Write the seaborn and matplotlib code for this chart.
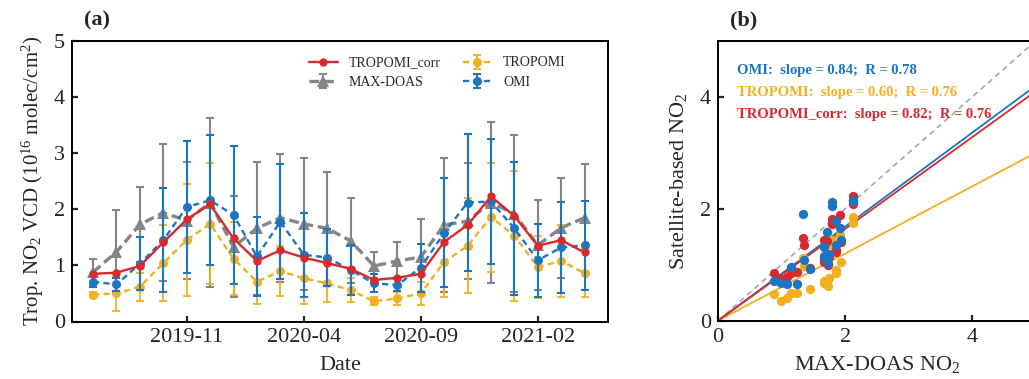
import numpy as np
import matplotlib
matplotlib.use("Agg")
import matplotlib.pyplot as plt
import seaborn as sns
from matplotlib.legend_handler import HandlerTuple

# ---------------- data ----------------
months = ["2019-07", "2019-08", "2019-09", "2019-10", "2019-11", "2019-12",
          "2020-01", "2020-02", "2020-03", "2020-04", "2020-05", "2020-06",
          "2020-07", "2020-08", "2020-09", "2020-10", "2020-11", "2020-12",
          "2021-01", "2021-02", "2021-03", "2021-04"]
tick_labels = ["2019-11", "2020-04", "2020-09", "2021-02"]

maxdoas = [0.88, 1.24, 1.73, 1.94, 1.80, 2.12, 1.33, 1.66, 1.85, 1.74, 1.66,
           1.44, 0.99, 1.08, 1.15, 1.72, 1.79, 2.12, 1.92, 1.36, 1.67, 1.85]
maxdoas_err = [0.23, 0.74, 0.67, 1.22, 1.05, 1.50, 0.90, 1.19, 1.14, 1.18, 1.00,
               0.76, 0.25, 0.33, 0.67, 1.19, 1.04, 1.44, 1.40, 0.80, 0.89, 0.96]

tropomi_corr = [0.85, 0.87, 0.99, 1.41, 1.82, 2.09, 1.48, 1.08, 1.27, 1.14, 1.04,
                0.94, 0.74, 0.78, 0.85, 1.42, 1.72, 2.23, 1.88, 1.35, 1.45, 1.23]

tropomi = [0.48, 0.50, 0.62, 1.04, 1.45, 1.74, 1.12, 0.71, 0.90, 0.77, 0.68,
           0.56, 0.36, 0.41, 0.50, 1.06, 1.35, 1.86, 1.53, 0.97, 1.08, 0.86]
tropomi_err = [0.05, 0.31, 0.25, 0.68, 1.00, 1.08, 0.65, 0.39, 0.45, 0.45, 0.34,
               0.22, 0.07, 0.12, 0.20, 0.63, 0.85, 0.97, 1.16, 0.56, 0.64, 0.43]

omi = [0.71, 0.66, 1.03, 1.45, 2.04, 2.16, 1.90, 1.16, 1.78, 1.19, 1.14,
       0.92, 0.68, 0.65, 0.96, 1.58, 2.12, 2.14, 1.66, 1.09, 1.32, 1.36]
omi_err = [0.10, 0.12, 0.47, 0.93, 1.17, 1.16, 1.23, 0.71, 1.03, 0.75, 0.50,
           0.45, 0.16, 0.10, 0.43, 0.97, 1.22, 1.12, 1.19, 0.65, 0.81, 0.79]

fit_names = ["OMI", "TROPOMI", "TROPOMI_corr"]
fit_slopes = [0.84, 0.60, 0.82]
fit_r = [0.78, 0.76, 0.76]

# ---------------- style ----------------
sns.set_theme(style="ticks")
plt.rcParams["font.family"] = ["Liberation Serif", "DejaVu Serif"]
plt.rcParams["mathtext.fontset"] = "custom"
plt.rcParams["mathtext.rm"] = "Liberation Serif"
plt.rcParams["mathtext.it"] = "Liberation Serif:italic"
plt.rcParams["mathtext.bf"] = "Liberation Serif:bold"
plt.rcParams["lines.scale_dashes"] = False

RED = "#D62A2E"
GRAY = "#858585"
YEL = "#F2B01E"
BLUE = "#1B75C2"

fig = plt.figure(figsize=(10.29, 3.79), dpi=100)
ax = fig.add_axes([72 / 1029, 1 - 321.5 / 379, 536 / 1029, 280.5 / 379])
ax2 = fig.add_axes([718 / 1029, 1 - 320.7 / 379, 318 / 1029, 280 / 379])

x = np.arange(len(months))

# ---------------- panel (a) ----------------
eb_g = ax.errorbar(x, maxdoas, yerr=maxdoas_err, fmt="none", ecolor=GRAY,
                   elinewidth=1.5, capsize=3, capthick=1.5, zorder=2)
sns.lineplot(x=x, y=maxdoas, ax=ax, color=GRAY, marker="^", markersize=9,
             markeredgecolor=GRAY, markeredgewidth=0, linewidth=2.4, zorder=3)
ln_g = ax.lines[-1]
ln_g.set_dashes([7, 3.5])

eb_y = ax.errorbar(x, tropomi, yerr=tropomi_err, fmt="none", ecolor=YEL,
                   elinewidth=1.3, capsize=3, capthick=1.3, zorder=4)
sns.lineplot(x=x, y=tropomi, ax=ax, color=YEL, marker="o", markersize=6.5,
             markeredgecolor=YEL, markeredgewidth=0, linewidth=1.7, zorder=5)
ln_y = ax.lines[-1]
ln_y.set_dashes([4.5, 3])

eb_b = ax.errorbar(x, omi, yerr=omi_err, fmt="none", ecolor=BLUE,
                   elinewidth=1.5, capsize=3, capthick=1.5, zorder=6)
sns.lineplot(x=x, y=omi, ax=ax, color=BLUE, marker="o", markersize=6.5,
             markeredgecolor=BLUE, markeredgewidth=0, linewidth=1.7, zorder=7)
ln_b = ax.lines[-1]
ln_b.set_dashes([4.5, 3])

sns.lineplot(x=x, y=tropomi_corr, ax=ax, color=RED, marker="o", markersize=6,
             markeredgecolor=RED, markeredgewidth=0, linewidth=1.7, zorder=8)
ln_r = ax.lines[-1]

ax.set_xlim(-0.9, 22.0)
ax.set_ylim(0, 5)
ax.set_yticks([0, 1, 2, 3, 4, 5])
ax.set_xticks([months.index(t) for t in tick_labels])
ax.set_xticklabels(tick_labels)
ax.tick_params(direction="in", length=4, width=1.6, labelsize=16, pad=5)
for s in ax.spines.values():
    s.set_linewidth(1.4)
    s.set_color("black")
ax.set_xlabel("Date", fontsize=16, labelpad=6)
ax.set_ylabel(r"Trop. NO$_2$ VCD (10$^{16}$ molec/cm$^2$)", fontsize=15, labelpad=6)

leg = ax.legend([ln_r, (ln_g, eb_g), (ln_y, eb_y), (ln_b, eb_b)],
                ["TROPOMI_corr", "MAX-DOAS", "TROPOMI", "OMI"],
                handler_map={tuple: HandlerTuple(ndivide=1)},
                ncol=2, frameon=False, fontsize=10, handlelength=2.1,
                handletextpad=0.8, columnspacing=1.6, labelspacing=0.45,
                loc="upper left", bbox_to_anchor=(296 / 1029, 1 - 44 / 379),
                bbox_transform=fig.transFigure)

fig.text(84 / 1029, 1 - 20 / 379, "(a)", fontsize=16, fontweight="bold",
         va="center", ha="left")

# ---------------- panel (b) ----------------
xs = np.array([0.0, 5.0])
sns.lineplot(x=xs, y=xs, ax=ax2, color="#A8A8A8", linewidth=1.2, zorder=1)
ax2.lines[-1].set_dashes([4, 3])
fit_colors = [BLUE, YEL, RED]
for slope, c in zip(fit_slopes, fit_colors):
    sns.lineplot(x=xs, y=slope * xs, ax=ax2, color=c, linewidth=1.3, zorder=2)

sns.scatterplot(x=maxdoas, y=tropomi, ax=ax2, color=YEL, s=45, linewidth=0, zorder=3)
sns.scatterplot(x=maxdoas, y=tropomi_corr, ax=ax2, color=RED, s=45, linewidth=0, zorder=4)
sns.scatterplot(x=maxdoas, y=omi, ax=ax2, color=BLUE, s=45, linewidth=0, zorder=5)

for i, (n, sl, r, c) in enumerate(zip(fit_names, fit_slopes, fit_r, fit_colors)):
    ax2.text(0.06, 0.895 - i * 0.08, f"{n}:  slope = {sl:.2f};  R = {r:.2f}",
             transform=ax2.transAxes, color=c, fontsize=10.5, fontweight="bold",
             va="center", ha="left")

ax2.set_xlim(0, 5)
ax2.set_ylim(0, 5)
ax2.set_xticks([0, 2, 4])
ax2.set_yticks([0, 2, 4])
ax2.tick_params(direction="in", length=4, width=1.6, labelsize=16, pad=5)
for s in ax2.spines.values():
    s.set_linewidth(1.4)
    s.set_color("black")
ax2.set_xlabel(r"MAX-DOAS NO$_2$", fontsize=16, labelpad=5)
ax2.set_ylabel(r"Satellite-based NO$_2$", fontsize=16, labelpad=8)

fig.text(730 / 1029, 1 - 20 / 379, "(b)", fontsize=16, fontweight="bold",
         va="center", ha="left")

fig.savefig("out.png", dpi=100)
